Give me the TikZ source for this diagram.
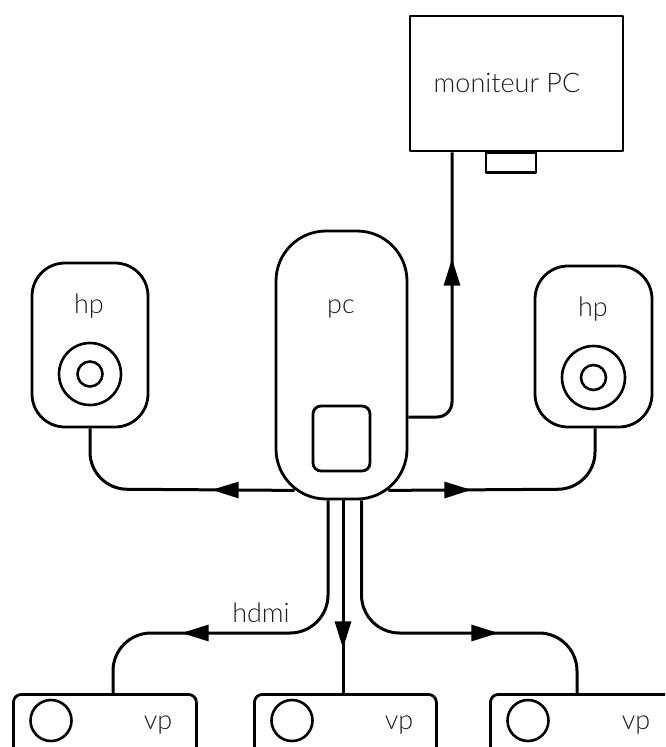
\documentclass[tikz,border=0pt]{standalone}
\usepackage{fontspec}
\newfontfamily\lblfont{Lato Light}
\usetikzlibrary{arrows.meta,calc,backgrounds,decorations.markings}

\begin{document}
\begin{tikzpicture}[x=1pt,y=-1pt,
  line join=round,
  box/.style={draw=black, fill=white, inner sep=0pt, line width=2.8pt},
  ring/.style={draw=black, circle, inner sep=0pt, line width=2.6pt},
  lbl/.style={font=\lblfont\fontsize{27}{30}\selectfont, anchor=base, inner sep=0pt, text=black!88},
  conn/.style={draw=black, line width=3pt},
  midtip/.style={postaction={decorate},
    decoration={markings, mark=at position #1 with {\arrow{Triangle[length=27pt,width=16pt]}}}},
]
\useasboundingbox (0,0) rectangle (665,747);
\clip (0,0) rectangle (665,747);

% monitor
\node[box, minimum width=213pt, minimum height=135pt] (mon) at (516.5,83.5) {};
\node[lbl] (monlbl) at (507,92) {moniteur PC};
\node[box, minimum width=50pt, minimum height=20pt, anchor=north] (monfoot) at (511,151) {};

% computer
\node[box, rounded corners=50pt, minimum width=131pt, minimum height=268pt] (pc) at (341.5,365) {};
\node[lbl] (pclbl) at (341,313) {pc};
\node[box, rounded corners=8pt, minimum width=57pt, minimum height=65pt] (pcbay) at (341.5,438.5) {};

% speakers
\node[box, rounded corners=33pt, minimum width=116pt, minimum height=164pt] (hpL) at (90,345) {};
\node[lbl] (hpLlbl) at (89,313) {hp};
\node[ring, minimum size=62pt] (hpLcone) at (90,374) {};
\node[ring, minimum size=25pt] (hpLdome) at (90,374) {};

\node[box, rounded corners=33pt, minimum width=117pt, minimum height=161pt] (hpR) at (593.5,346.5) {};
\node[lbl] (hpRlbl) at (593,316) {hp};
\node[ring, minimum size=63pt] (hpRcone) at (593.5,377.5) {};
\node[ring, minimum size=25pt] (hpRdome) at (593.5,377.5) {};

% projectors
\node[box, rounded corners=8pt, minimum width=183pt, minimum height=100pt, anchor=north west] (vp1) at (12,693) {};
\node[ring, minimum size=41pt] (vp1lens) at (51,720.5) {};
\node[lbl] (vp1lbl) at (158,729) {vp};

\node[box, rounded corners=8pt, minimum width=182pt, minimum height=100pt, anchor=north west] (vp2) at (253,693) {};
\node[ring, minimum size=41pt] (vp2lens) at (292,720.5) {};
\node[lbl] (vp2lbl) at (399,729) {vp};

\node[box, rounded corners=8pt, minimum width=200pt, minimum height=100pt, anchor=north west] (vp3) at (489,693) {};
\node[ring, minimum size=41pt] (vp3lens) at (528,720.5) {};
\node[lbl] (vp3lbl) at (636,729) {vp};

\node[lbl] (hdmi) at (261,622) {hdmi};

% cable ports on the pc outline, and bends
\coordinate (pM)  at ($(pc.east)+(0,52)$);
\coordinate (pL)  at ($(pc.south west)+(20,-10)$);
\coordinate (pR)  at ($(pc.south east)+(-20,-10)$);
\coordinate (pV1) at ($(pc.south)+(-13.5,0)$);
\coordinate (pV2) at ($(pc.south)+(1.5,0)$);
\coordinate (pV3) at ($(pc.south)+(20,0)$);
\coordinate (kM) at (452,417);
\coordinate (kL) at (90,489);
\coordinate (kR) at (595,489);
\coordinate (kV1) at (113,633);
\coordinate (kV3) at (577,633);

\begin{scope}[on background layer]
  % pc -> monitor
  \draw[conn, rounded corners=15pt, midtip=195.6pt]
    (pM) -- (kM) -- (kM |- mon.south);
  % pc -> speakers
  \draw[conn, rounded corners=37pt, midtip=83pt]
    (pL) -- (kL) -- (kL |- hpL.south);
  \draw[conn, rounded corners=37pt, midtip=83pt]
    (pR) -- (kR) -- (kR |- hpR.south);
  % pc -> projectors (hdmi)
  \draw[conn, rounded corners=38pt, midtip=262.7pt]
    (pV1) |- (kV1) -- (kV1 |- vp1.north);
  \draw[conn, midtip=148pt]
    (pV2) -- (pV2 |- vp2.north);
  \draw[conn, rounded corners=38pt, midtip=253.2pt]
    (pV3) |- (kV3) -- (kV3 |- vp3.north);
\end{scope}
\end{tikzpicture}
\end{document}
